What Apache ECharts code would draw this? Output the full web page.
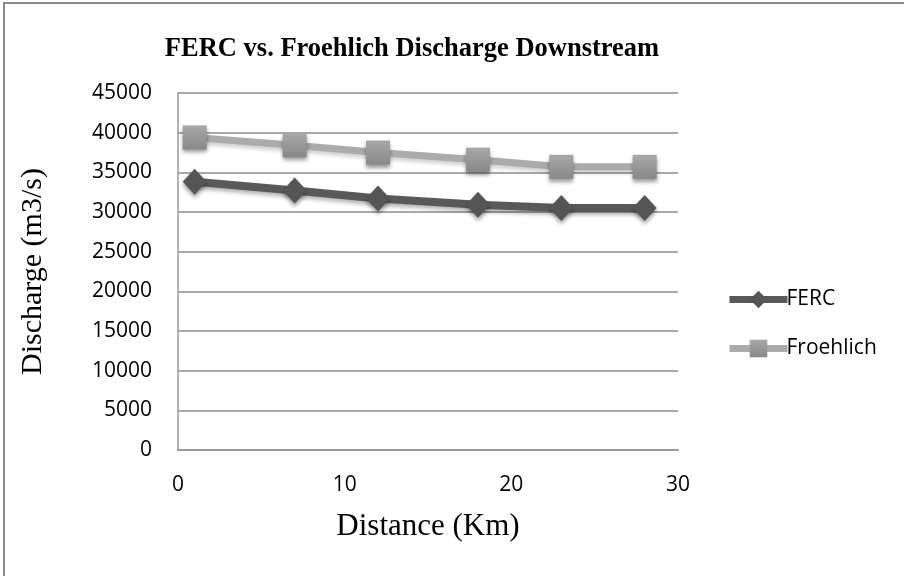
<!DOCTYPE html>
<html><head><meta charset="utf-8">
<script src="https://cdn.jsdelivr.net/npm/echarts@6/dist/echarts.min.js"></script>
<style>html,body{margin:0;padding:0;background:#fff}#c{width:904px;height:576px}</style>
</head><body><div id="c"></div>
<script>
var distances = [1, 7, 12, 18, 23, 28];
var ferc = [33800, 32700, 31700, 30900, 30500, 30500];
var froehlich = [39400, 38400, 37500, 36600, 35700, 35700];
var xTicks = [0, 10, 20, 30];
var yTicks = [0, 5000, 10000, 15000, 20000, 25000, 30000, 35000, 40000, 45000];

var chart = echarts.init(document.getElementById('c'), null, {renderer: 'canvas'});
function pairs(xs, ys){ return xs.map(function(x,i){ return [x, ys[i]]; }); }
var sans = 'Open Sans';
var serif = 'Liberation Serif';
chart.setOption({
  animation: false,
  backgroundColor: '#fff',
  graphic: [{type: 'rect', shape: {x: 4, y: 3, width: 920, height: 600}, style: {fill: 'none', stroke: '#8a8a8a', lineWidth: 2}, z: 100}],
  title: {text: 'FERC vs. Froehlich Discharge Downstream', left: 407, top: 31, textAlign: 'center',
    textStyle: {fontFamily: serif, fontWeight: 'bold', fontSize: 26.5, color: '#000'}},
  grid: {left: 178, top: 93, width: 500, height: 357, containLabel: false},
  legend: {orient: 'vertical', left: 721, top: 284, itemGap: 28, itemWidth: 58, itemHeight: 22,
    lineStyle: {width: 7},
    textStyle: {fontFamily: sans, fontSize: 21, color: '#000', padding: [0,0,0,-6]},
    data: ['FERC', 'Froehlich']},
  xAxis: {type: 'value', min: 0, max: 30, interval: 10,
    name: 'Distance (Km)', nameLocation: 'middle', nameGap: 61,
    nameTextStyle: {fontFamily: serif, fontSize: 31, color: '#000'},
    axisLine: {show: true, lineStyle: {color: '#999', width: 2}}, axisTick: {show: false},
    splitLine: {show: false},
    axisLabel: {fontFamily: sans, fontSize: 21, color: '#000', margin: 25,
      customValues: xTicks}},
  yAxis: {type: 'value', min: 0, max: 45000, interval: 5000,
    name: 'Discharge (m3/s)', nameLocation: 'middle', nameGap: 130, nameRotate: 90,
    nameTextStyle: {fontFamily: serif, fontSize: 30, color: '#000'},
    axisLine: {show: true, lineStyle: {color: '#999', width: 1.5}}, axisTick: {show: false},
    splitLine: {show: true, lineStyle: {color: '#8c8c8c', width: 1.5}},
    axisLabel: {fontFamily: sans, fontSize: 21, color: '#000', margin: 26,
      formatter: function(v){ return String(v); }}},
  series: [
    {name: 'FERC', type: 'line', data: pairs(distances, ferc), symbol: 'diamond', symbolSize: [24, 26],
      lineStyle: {color: '#595959', width: 8, shadowBlur: 4, shadowOffsetY: 3, shadowColor: 'rgba(0,0,0,0.3)'},
      itemStyle: {color: '#555', shadowBlur: 4, shadowOffsetY: 3, shadowColor: 'rgba(0,0,0,0.4)'}},
    {name: 'Froehlich', type: 'line', data: pairs(distances, froehlich), symbol: 'rect', symbolSize: 24,
      lineStyle: {color: '#ababab', width: 7, shadowBlur: 4, shadowOffsetY: 3, shadowColor: 'rgba(0,0,0,0.2)'},
      itemStyle: {color: new echarts.graphic.LinearGradient(0,0,0,1,[{offset:0,color:'#a8a8a8'},{offset:1,color:'#888'}]),
        shadowBlur: 4, shadowOffsetY: 3, shadowColor: 'rgba(0,0,0,0.4)'}}
  ]
});
</script></body></html>
